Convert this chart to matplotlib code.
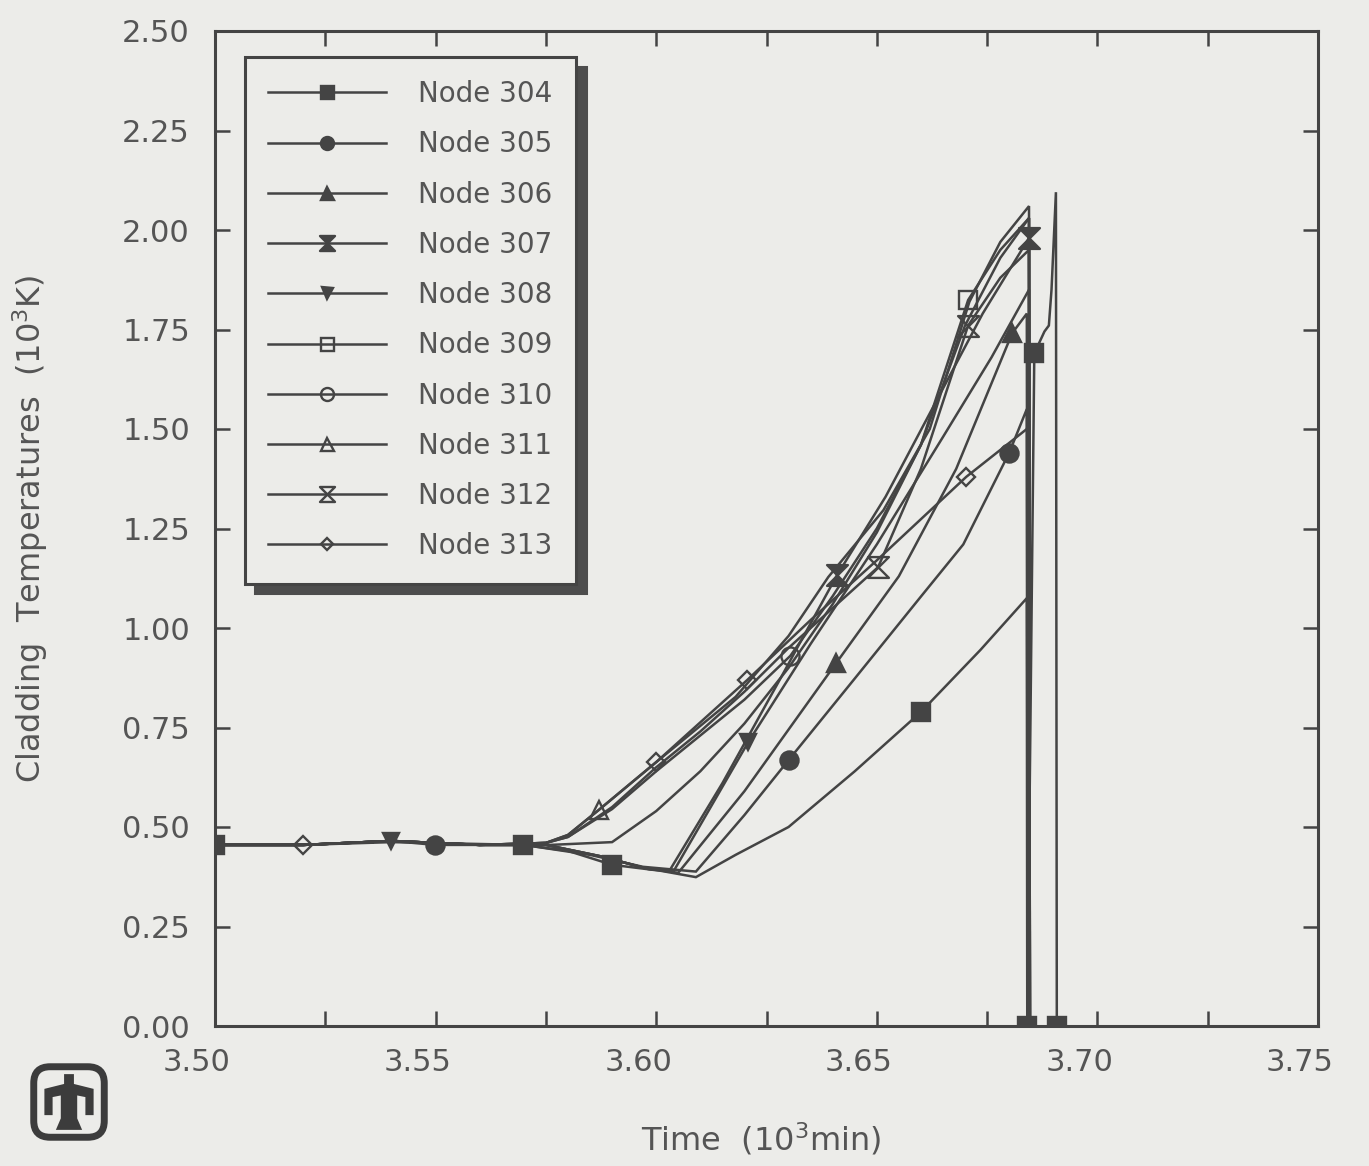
import matplotlib
matplotlib.use("Agg")
import matplotlib.pyplot as plt
from matplotlib.path import Path
from matplotlib.patches import FancyBboxPatch, Polygon
from matplotlib.transforms import ScaledTranslation

# ---- cladding temperature histories (time in 10^3 min, temperature in 10^3 K) ----
t304 = [3.500, 3.520, 3.540, 3.5698, 3.580, 3.590, 3.601, 3.609, 3.618, 3.630, 3.645,
        3.660, 3.6735, 3.684, 3.6841, 3.6857, 3.6880, 3.6890, 3.6896, 3.6906, 3.6908]
T304 = [0.455, 0.455, 0.462, 0.455, 0.440, 0.405, 0.390, 0.374, 0.430, 0.500, 0.640,
        0.789, 0.945, 1.075, 0.000, 1.690, 1.745, 1.760, 1.850, 2.095, 0.000]
m304 = [0, 3, 5, 11, 14, 15, 20]

t305 = [3.500, 3.520, 3.540, 3.5499, 3.570, 3.585, 3.597, 3.609, 3.620, 3.630, 3.645,
        3.660, 3.6696, 3.680, 3.684, 3.6842]
T305 = [0.455, 0.455, 0.465, 0.455, 0.455, 0.430, 0.400, 0.388, 0.530, 0.668, 0.873,
        1.079, 1.210, 1.440, 1.550, 0.000]
m305 = [3, 9, 13]

t306 = [3.500, 3.520, 3.540, 3.560, 3.575, 3.588, 3.598, 3.605, 3.620, 3.6408, 3.655,
        3.668, 3.6807, 3.684, 3.6842]
T306 = [0.455, 0.455, 0.465, 0.455, 0.455, 0.425, 0.395, 0.385, 0.590, 0.912, 1.130,
        1.400, 1.741, 1.790, 0.000]
m306 = [9, 12]

t307 = [3.500, 3.520, 3.540, 3.560, 3.575, 3.588, 3.598, 3.603, 3.615, 3.628, 3.641,
        3.652, 3.663, 3.674, 3.6845, 3.6847]
T307 = [0.455, 0.455, 0.465, 0.455, 0.455, 0.425, 0.395, 0.390, 0.610, 0.870, 1.133,
        1.330, 1.560, 1.790, 1.980, 0.000]
m307 = [10, 14]

t308 = [3.500, 3.520, 3.540, 3.560, 3.575, 3.588, 3.598, 3.604, 3.6209, 3.635, 3.650,
        3.665, 3.676, 3.6845, 3.6847]
T308 = [0.455, 0.455, 0.465, 0.455, 0.455, 0.425, 0.395, 0.390, 0.714, 0.960, 1.210,
        1.480, 1.680, 1.850, 0.000]
m308 = [2, 8]

t309 = [3.500, 3.520, 3.540, 3.560, 3.576, 3.590, 3.600, 3.610, 3.620, 3.630, 3.640,
        3.650, 3.660, 3.6707, 3.678, 3.6845, 3.6847]
T309 = [0.455, 0.455, 0.465, 0.455, 0.455, 0.462, 0.540, 0.640, 0.760, 0.900, 1.060,
        1.240, 1.460, 1.824, 1.950, 2.030, 0.000]
m309 = [13]

t310 = [3.500, 3.520, 3.540, 3.560, 3.575, 3.580, 3.590, 3.600, 3.610, 3.620, 3.6304,
        3.640, 3.650, 3.660, 3.670, 3.678, 3.6845, 3.6847]
T310 = [0.455, 0.455, 0.465, 0.455, 0.460, 0.475, 0.545, 0.640, 0.730, 0.820, 0.930,
        1.080, 1.250, 1.460, 1.760, 1.930, 2.030, 0.000]
m310 = [10]

t311 = [3.500, 3.520, 3.540, 3.560, 3.575, 3.580, 3.587, 3.600, 3.618, 3.630, 3.639,
        3.6515, 3.662, 3.671, 3.678, 3.6845, 3.6847]
T311 = [0.455, 0.455, 0.465, 0.455, 0.460, 0.480, 0.543, 0.663, 0.827, 0.980, 1.128,
        1.296, 1.500, 1.820, 1.970, 2.060, 0.000]
m311 = [6]

t312 = [3.500, 3.520, 3.540, 3.560, 3.575, 3.580, 3.590, 3.600, 3.610, 3.620, 3.630,
        3.640, 3.6503, 3.660, 3.6707, 3.678, 3.6845, 3.6847]
T312 = [0.455, 0.455, 0.465, 0.455, 0.460, 0.475, 0.550, 0.650, 0.740, 0.840, 0.950,
        1.050, 1.153, 1.400, 1.760, 1.880, 1.950, 0.000]
m312 = [12, 14]

t313 = [3.500, 3.520, 3.540, 3.560, 3.575, 3.580, 3.587, 3.600, 3.6206, 3.635, 3.650,
        3.6703, 3.684, 3.6845, 3.6847]
T313 = [0.455, 0.455, 0.465, 0.455, 0.460, 0.480, 0.543, 0.663, 0.869, 1.020, 1.170,
        1.380, 1.500, 1.520, 0.000]
m313 = [1, 7, 8, 11]

node_labels = ["Node 304", "Node 305", "Node 306", "Node 307", "Node 308",
               "Node 309", "Node 310", "Node 311", "Node 312", "Node 313"]
x_ticks = [3.50, 3.55, 3.60, 3.65, 3.70, 3.75]
x_minor = [3.525, 3.575, 3.625, 3.675, 3.725]
y_ticks = [0.00, 0.25, 0.50, 0.75, 1.00, 1.25, 1.50, 1.75, 2.00, 2.25, 2.50]

# ---- styling ----
paper = "#ecece9"
ink = "#444444"
text_c = "#555555"

# hourglass marker: two triangles meeting at the centre, flat bars top and bottom
hourglass = Path([(-1, 1), (1, 1), (-1, -1), (1, -1), (-1, 1)],
                 [Path.MOVETO, Path.LINETO, Path.LINETO, Path.LINETO, Path.CLOSEPOLY])

series = [
    (t304, T304, m304, "s", True, 13),
    (t305, T305, m305, "o", True, 13),
    (t306, T306, m306, "^", True, 13),
    (t307, T307, m307, hourglass, True, 15),
    (t308, T308, m308, "v", True, 11),
    (t309, T309, m309, "s", False, 13),
    (t310, T310, m310, "o", False, 13),
    (t311, T311, m311, "^", False, 13),
    (t312, T312, m312, hourglass, False, 15),
    (t313, T313, m313, "D", False, 9),
]

fig = plt.figure(figsize=(13.69, 11.66), dpi=100, facecolor=paper)
ax = fig.add_axes([215 / 1369, 1 - 1026 / 1166, 1103 / 1369, 995 / 1166])
ax.set_facecolor(paper)

for (t, T, mk, marker, filled, ms), lab in zip(series, node_labels):
    ax.plot(t, T, color=ink, lw=1.8, marker=marker, ms=ms,
            mfc=ink if filled else "none", mec=ink, mew=1.7,
            markevery=mk, label=lab, solid_joinstyle="miter")

ax.set_xlim(3.50, 3.75)
ax.set_ylim(0.0, 2.5)
ax.set_xticks(x_ticks)
ax.set_xticklabels([f"{v:.2f}" for v in x_ticks])
ax.set_xticks(x_minor, minor=True)
ax.set_yticks(y_ticks)
ax.set_yticklabels([f"{v:.2f}" for v in y_ticks])

ax.tick_params(which="both", direction="in", length=11, width=1.8, color=ink,
               top=True, right=True, bottom=True, left=True)
ax.tick_params(axis="x", which="major", labelsize=22, labelcolor=text_c, pad=16)
ax.tick_params(axis="y", which="major", labelsize=22, labelcolor=text_c, pad=18)
for sp in ax.spines.values():
    sp.set_color(ink)
    sp.set_linewidth(2.2)

# numbers under the time axis sit a little left of their ticks
shift = ScaledTranslation(-0.18, 0, fig.dpi_scale_trans)
for tick in ax.xaxis.get_major_ticks():
    tick.label1.set_transform(tick.label1.get_transform() + shift)

ax.set_xlabel("Time  (10$^3$min)", fontsize=23, color=text_c)
ax.xaxis.set_label_coords(0.495, -0.095)
ax.set_ylabel("Cladding  Temperatures  (10$^3$K)", fontsize=23, color=text_c)
ax.yaxis.set_label_coords(-0.150, 0.50)

leg = ax.legend(loc="upper left", bbox_to_anchor=(0.027, 0.974), fontsize=20,
                handlelength=4.25, handletextpad=1.15, labelspacing=0.80,
                borderpad=0.84, borderaxespad=0, frameon=True, fancybox=False,
                edgecolor=ink, facecolor=paper, framealpha=1, markerscale=0.72,
                shadow={"ox": 7, "oy": -7, "color": "#4d4d4d", "alpha": 1})
leg.get_frame().set_linewidth(2.2)
for txt in leg.get_texts():
    txt.set_color(text_c)

# laboratory emblem in the lower left corner
logo = fig.add_axes([28 / 1369, 1 - 1143 / 1166, 82 / 1369, 82 / 1166])
logo.set_xlim(0, 1)
logo.set_ylim(0, 1)
logo.axis("off")
logo.add_patch(FancyBboxPatch((0.07, 0.07), 0.86, 0.86,
                              boxstyle="round,pad=0,rounding_size=0.2",
                              fill=False, lw=5, ec="#3c3c3c"))
bird = [(0.44, 0.84), (0.56, 0.84), (0.56, 0.72), (0.80, 0.66), (0.80, 0.34),
        (0.70, 0.34), (0.70, 0.56), (0.60, 0.58), (0.60, 0.30), (0.66, 0.16),
        (0.34, 0.16), (0.40, 0.30), (0.40, 0.58), (0.30, 0.56), (0.30, 0.34),
        (0.20, 0.34), (0.20, 0.66), (0.44, 0.72)]
logo.add_patch(Polygon(bird, closed=True, fc="#3c3c3c", ec="none"))

fig.savefig("out.png", dpi=100, facecolor=paper)
